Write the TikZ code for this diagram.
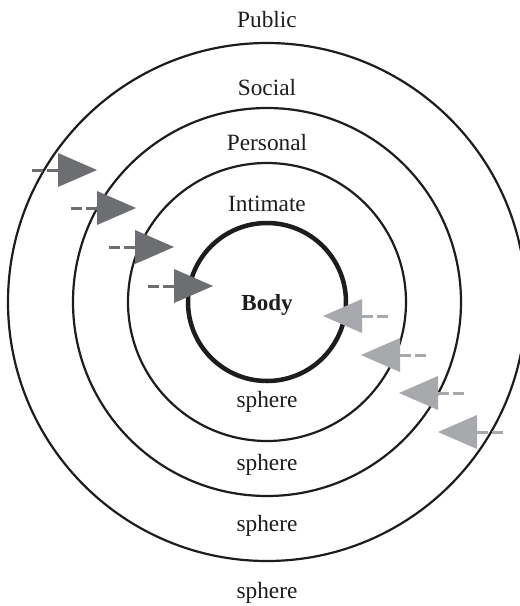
\documentclass[tikz,border=0pt]{standalone}
\usepackage{fontspec}
\setmainfont{Liberation Serif}
\usetikzlibrary{calc}
\definecolor{darkgr}{RGB}{109,110,113}
\definecolor{lightgr}{RGB}{167,169,172}
\definecolor{ink}{RGB}{30,28,29}
\tikzset{
  ring/.style={draw=ink, line width=2.2pt},
  bodyring/.style={draw=ink, line width=4.5pt},
  lbl/.style={anchor=base, inner sep=0pt, text=ink, font=\fontsize{23.3}{27}\selectfont},
  boldlbl/.style={lbl, font=\fontsize{23}{27}\selectfont\bfseries},
  darkdash/.style={draw=darkgr, line width=3pt, dash pattern=on 11pt off 4pt},
  darkfill/.style={fill=darkgr},
  lightdash/.style={draw=lightgr, line width=3pt, dash pattern=on 11pt off 4pt},
  lightfill/.style={fill=lightgr}
}
\begin{document}
\begin{tikzpicture}[x=1pt, y=-1pt]
\useasboundingbox (0,0) rectangle (520,606);
\fill[white] (0,0) rectangle (520,606);
\coordinate (c) at (267,302);

% rings
\draw[ring] (c) circle (259);
\draw[ring] (c) circle (194);
\draw[ring] (c) circle (139);
\draw[bodyring] (c) circle (79);

% light arrows
\foreach \i/\x/\y in {1/323/316, 2/361/355, 3/399/393, 4/438/432}{
  \coordinate (lt\i) at (\x,\y);
  \coordinate (lb\i) at (\x+39,\y);
  \coordinate (ls\i) at (\x+65,\y);
  \draw[lightdash] (ls\i) -- (lb\i);
  \fill[lightfill] (lt\i) -- ([yshift=17pt]lb\i) -- ([yshift=-17pt]lb\i) -- cycle;
}

% dark arrows
\foreach \i/\x/\y in {1/97/170, 2/136/208, 3/174/247, 4/213/286}{
  \coordinate (dt\i) at (\x,\y);
  \coordinate (db\i) at (\x-39,\y);
  \coordinate (ds\i) at (\x-65,\y);
  \draw[darkdash] (ds\i) -- (db\i);
  \fill[darkfill] (dt\i) -- ([yshift=17pt]db\i) -- ([yshift=-17pt]db\i) -- cycle;
}

% labels
\node[lbl] (public)   at (267,27)  {Public};
\node[lbl] (social)   at (267,95)  {Social};
\node[lbl] (personal) at (267,150) {Personal};
\node[lbl] (intimate) at (267,211) {Intimate};
\node[boldlbl] (body) at (267,310) {Body};
\node[lbl] (s1) at (267,407) {sphere};
\node[lbl] (s2) at (267,470) {sphere};
\node[lbl] (s3) at (267,531) {sphere};
\node[lbl] (s4) at (267,598) {sphere};
\end{tikzpicture}
\end{document}
